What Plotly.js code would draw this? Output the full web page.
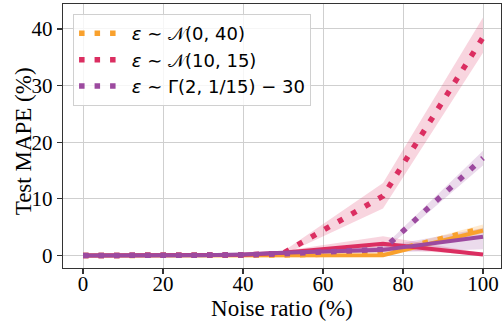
<!DOCTYPE html>
<html>
<head>
<meta charset="utf-8">
<script src="https://cdn.plot.ly/plotly-3.0.1.min.js"></script>
<style>html,body{margin:0;padding:0;background:#fff;}#chart{width:502px;height:326px;}</style>
</head>
<body>
<div id="chart"></div>
<script>
// Noise ratio (%)
const noiseRatio = [0, 10, 20, 30, 40, 50, 75, 100];

// eps ~ N(0, 40)
const n040Dotted     = [0, 0, 0, 0, 0.05, 0.1, 0.4, 4.8];
const n040DottedLo   = [0, 0, 0, 0, 0, 0, 0.1, 4.1];
const n040DottedHi   = [0, 0, 0, 0, 0.1, 0.2, 0.8, 5.5];
const n040Solid      = [0, 0, 0, 0, 0, 0.05, 0.05, 4.4];
const n040SolidLo    = [0, 0, 0, 0, 0, 0, 0, 3.9];
const n040SolidHi    = [0, 0, 0, 0, 0.05, 0.1, 0.2, 4.9];

// eps ~ N(10, 15)
const n1015Dotted    = [0, 0, 0, 0, 0.1, 0.4, 10.5, 38.5];
const n1015DottedLo  = [0, 0, 0, 0, 0, 0.1, 8.3, 35.8];
const n1015DottedHi  = [0, 0, 0, 0, 0.2, 0.7, 12.8, 42.0];
const n1015Solid     = [0, 0, 0, 0.05, 0.15, 0.5, 2.1, 0.2];
const n1015SolidLo   = [0, 0, 0, 0, 0.05, 0.3, 1.2, 0.05];
const n1015SolidHi   = [0, 0, 0, 0.1, 0.3, 0.8, 3.4, 0.4];

// eps ~ Gamma(2, 1/15) - 30
const gammaDotted    = [0, 0, 0, 0, 0.1, 0.3, 1.1, 17.2];
const gammaDottedLo  = [0, 0, 0, 0, 0, 0.1, 0.7, 15.9];
const gammaDottedHi  = [0, 0, 0, 0, 0.2, 0.5, 1.5, 18.5];
const gammaSolid     = [0, 0, 0, 0.05, 0.2, 0.5, 1.0, 3.3];
const gammaSolidLo   = [0, 0, 0, 0, 0.1, 0.3, 0.5, 1.1];
const gammaSolidHi   = [0, 0, 0, 0.1, 0.3, 0.8, 1.6, 4.8];

const legendNames = [
  '<i>ε</i> ∼ 𝒩(0, 40)',
  '<i>ε</i> ∼ 𝒩(10, 15)',
  '<i>ε</i> ∼ Γ(2, 1/15) − 30'
];
const xTitle = 'Noise ratio (%)';
const yTitle = 'Test MAPE (%)';

const ORANGE = '#F9A12D', CRIMSON = '#DB2E61', PURPLE = '#9C4A9F';
const bandAlpha = {o: 'rgba(249,161,45,0.22)', c: 'rgba(219,46,97,0.2)', p: 'rgba(156,74,159,0.2)'};

function band(lo, hi, fillcolor) {
  return [
    {x: noiseRatio, y: lo, mode: 'lines', line: {width: 0, color: fillcolor}, showlegend: false, hoverinfo: 'skip'},
    {x: noiseRatio, y: hi, mode: 'lines', line: {width: 0, color: fillcolor}, fill: 'tonexty', fillcolor: fillcolor, showlegend: false, hoverinfo: 'skip'}
  ];
}
const DOT = '5.5px,10px';
function dotted(y, color, name, grp) {
  return {x: noiseRatio, y: y, mode: 'lines', name: '\u00a0' + name, legendgroup: grp, line: {color: color, width: 5.5, dash: DOT}, showlegend: true};
}
function solid(y, color) {
  return {x: noiseRatio, y: y, mode: 'lines', line: {color: color, width: 4}, showlegend: false};
}

const data = [].concat(
  band(n040DottedLo, n040DottedHi, bandAlpha.o),
  band(n040SolidLo, n040SolidHi, bandAlpha.o),
  band(n1015DottedLo, n1015DottedHi, bandAlpha.c),
  band(n1015SolidLo, n1015SolidHi, bandAlpha.c),
  band(gammaDottedLo, gammaDottedHi, bandAlpha.p),
  band(gammaSolidLo, gammaSolidHi, bandAlpha.p),
  [
    solid(n040Solid, ORANGE),
    dotted(n040Dotted, ORANGE, legendNames[0], 'g1'),
    solid(n1015Solid, CRIMSON),
    dotted(n1015Dotted, CRIMSON, legendNames[1], 'g2'),
    solid(gammaSolid, PURPLE),
    dotted(gammaDotted, PURPLE, legendNames[2], 'g3')
  ]
);

const serif = 'Liberation Serif, Times New Roman, serif';
const axisCommon = {
  showline: true, mirror: true, linecolor: '#333', linewidth: 1.2,
  ticks: 'outside', ticklen: 5, tickwidth: 1.2, tickcolor: '#333',
  showgrid: true, gridcolor: '#cfcfcf', gridwidth: 1, zeroline: false,
  tickfont: {family: serif, size: 21, color: '#000'}
};

const layout = {
  width: 502, height: 326,
  margin: {l: 63, r: 1, t: 4, b: 58},
  paper_bgcolor: '#fff', plot_bgcolor: '#fff',
  showlegend: true,
  legend: {
    x: 0.023, y: 0.962, xanchor: 'left', yanchor: 'top',
    bgcolor: 'rgba(255,255,255,0.8)', bordercolor: '#d0d0d0', borderwidth: 1,
    font: {family: 'DejaVu Sans, sans-serif', size: 18, color: '#000'},
    itemwidth: 42, traceorder: 'grouped', tracegroupgap: 0
  },
  xaxis: Object.assign({}, axisCommon, {
    range: [-5, 104.5], tickvals: [0, 20, 40, 60, 80, 100],
    ticklabelstandoff: -8,
    title: {text: xTitle, font: {family: serif, size: 23, color: '#000'}, standoff: 2}
  }),
  yaxis: Object.assign({}, axisCommon, {
    range: [-2.2, 44.4], tickvals: [0, 10, 20, 30, 40]
  }),
  annotations: [{
    text: yTitle, xref: 'paper', yref: 'paper', x: 0, y: 0.48,
    xanchor: 'center', yanchor: 'middle', xshift: -40, textangle: -90,
    showarrow: false, font: {family: serif, size: 23, color: '#000'}
  }]
};

Plotly.newPlot('chart', data, layout, {displayModeBar: false, staticPlot: true});
</script>
</body>
</html>
